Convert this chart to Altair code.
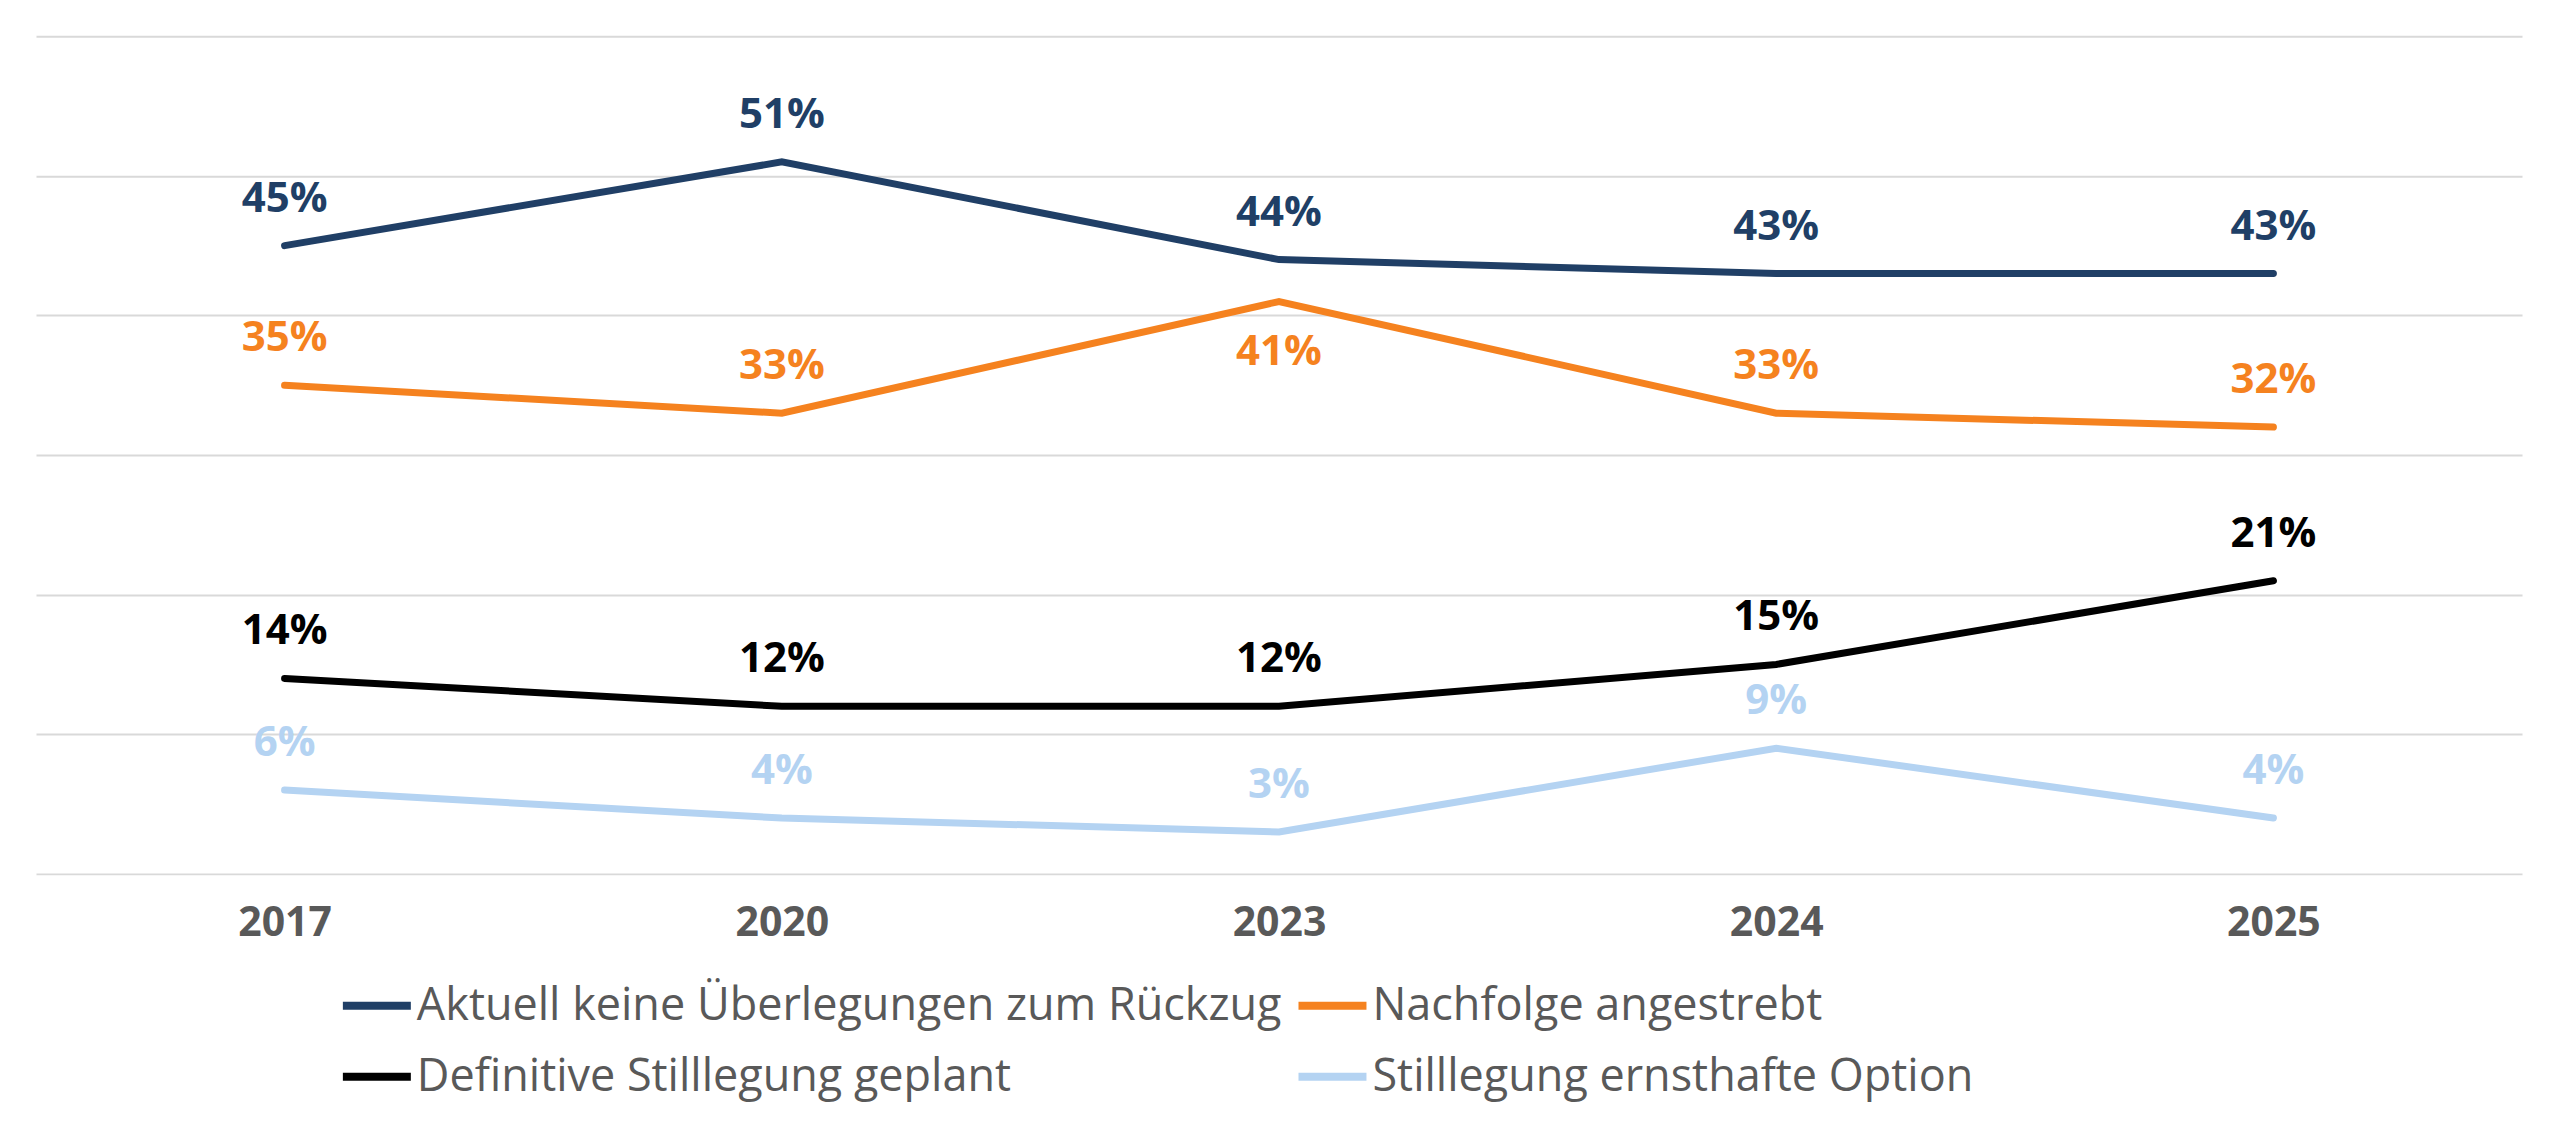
import altair as alt
import pandas as pd

years = ["2017", "2020", "2023", "2024", "2025"]
series = [
    "Aktuell keine Überlegungen zum Rückzug",
    "Nachfolge angestrebt",
    "Definitive Stilllegung geplant",
    "Stilllegung ernsthafte Option",
]
aktuell = [45, 51, 44, 43, 43]
nachfolge = [35, 33, 41, 33, 32]
definitiv = [14, 12, 12, 15, 21]
ernsthaft = [6, 4, 3, 9, 4]
colors = ["#203F66", "#F5821F", "#000000", "#B4D3F2"]

rows = []
for s, vals in zip(series, [aktuell, nachfolge, definitiv, ernsthaft]):
    for yr, v in zip(years, vals):
        rows.append({"year": yr, "series": s, "value": v})
df = pd.DataFrame(rows)

x = alt.X(
    "year:O",
    sort=years,
    scale=alt.Scale(type="point", padding=0.5),
    axis=alt.Axis(
        title=None, labelAngle=0, ticks=False, domain=False, grid=False,
        labelFont="Open Sans", labelFontWeight="bold", labelFontSize=41,
        labelColor="#595959", labelPadding=30,
    ),
)
y = alt.Y(
    "value:Q",
    scale=alt.Scale(domain=[0, 60]),
    axis=alt.Axis(
        title=None, labels=False, ticks=False, domain=False,
        values=[0, 10, 20, 30, 40, 50, 60],
        gridColor="#D9D9D9", gridWidth=2,
    ),
)
color_scale = alt.Scale(domain=series, range=colors)

# Vega fills legend columns top-to-bottom; order entries so rows read left-to-right
legend_order = [series[0], series[2], series[1], series[3]]

legend = alt.Legend(
    title=None, orient="none", legendX=303, legendY=932,
    columns=2, symbolType="stroke", symbolStrokeWidth=8, symbolSize=4624,
    labelFont="Open Sans", labelFontSize=45, labelColor="#595959",
    labelOffset=2, columnPadding=0, rowPadding=10, labelLimit=3000, padding=0,
    values=legend_order,
)

base = alt.Chart(df)

lines = base.mark_line(strokeWidth=7, strokeCap="round").encode(
    x=x, y=y,
    color=alt.Color("series:N", sort=series, scale=color_scale, legend=legend),
    detail="series:N",
)

below_expr = "datum.series == 'Nachfolge angestrebt' && datum.year == '2023'"

text_common = dict(font="Open Sans", fontWeight="bold", fontSize=42, baseline="middle", align="center")

labels_above = base.transform_filter("!(" + below_expr + ")").transform_calculate(
    label="datum.value + '%'"
).mark_text(dy=-47, **text_common).encode(
    x=x, y=y, text="label:N",
    color=alt.Color("series:N", sort=series, scale=color_scale, legend=None),
)

labels_below = base.transform_filter(below_expr).transform_calculate(
    label="datum.value + '%'"
).mark_text(dy=51, **text_common).encode(
    x=x, y=y, text="label:N",
    color=alt.Color("series:N", sort=series, scale=color_scale, legend=None),
)

chart = alt.layer(lines, labels_above, labels_below).properties(
    width=2487, height=838,
    padding={"left": 28, "top": 28, "right": 30, "bottom": 5},
).configure_view(stroke=None)

chart.save("out.html", embed_options={"renderer": "svg", "actions": False})
